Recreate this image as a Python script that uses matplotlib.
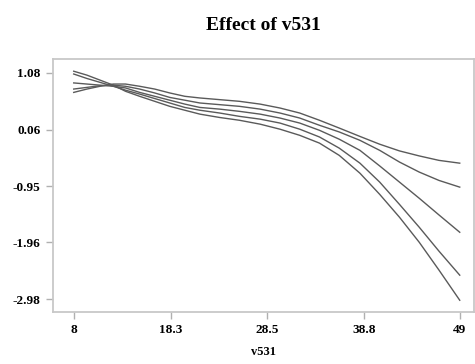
import matplotlib
matplotlib.use("Agg")
import matplotlib.pyplot as plt

# values
x_vals = [8.0, 9.4, 10.8, 12.2, 13.5, 15.0, 16.6, 18.2, 19.8, 21.4, 23.5, 25.6,
          27.8, 29.9, 32.0, 34.1, 36.2, 38.4, 40.5, 42.6, 44.7, 46.8, 49.0]
curve_a = [0.73, 0.79, 0.84, 0.88, 0.88, 0.84, 0.79, 0.72, 0.66, 0.63, 0.60, 0.57,
           0.52, 0.45, 0.36, 0.23, 0.09, -0.06, -0.20, -0.32, -0.41, -0.49, -0.54]
curve_b = [0.79, 0.82, 0.85, 0.86, 0.84, 0.79, 0.72, 0.64, 0.59, 0.54, 0.51, 0.48,
           0.43, 0.36, 0.27, 0.14, 0.02, -0.13, -0.31, -0.52, -0.70, -0.85, -0.97]
curve_c = [0.90, 0.88, 0.86, 0.84, 0.81, 0.73, 0.66, 0.59, 0.52, 0.46, 0.43, 0.39,
           0.34, 0.27, 0.18, 0.05, -0.11, -0.31, -0.59, -0.88, -1.17, -1.47, -1.78]
curve_d = [1.06, 0.98, 0.91, 0.84, 0.77, 0.70, 0.62, 0.54, 0.46, 0.41, 0.36, 0.30,
           0.25, 0.18, 0.07, -0.07, -0.27, -0.54, -0.88, -1.28, -1.69, -2.12, -2.55]
curve_e = [1.11, 1.04, 0.95, 0.86, 0.75, 0.66, 0.57, 0.48, 0.41, 0.34, 0.28, 0.23,
           0.16, 0.07, -0.04, -0.18, -0.40, -0.72, -1.10, -1.51, -1.96, -2.46, -3.00]

x_ticks = [8, 18.3, 28.5, 38.8, 49]
x_tick_labels = ["8", "18.3", "28.5", "38.8", "49"]
y_ticks = [1.08, 0.06, -0.95, -1.96, -2.98]
y_tick_labels = ["1.08", "0.06", "-0.95", "-1.96", "-2.98"]

plt.rcParams['font.family'] = ['Liberation Serif', 'DejaVu Serif']
plt.rcParams['font.weight'] = 'bold'

fig = plt.figure(figsize=(4.75, 3.64), dpi=100)
ax = fig.add_axes([0.1116, 0.143, 0.886, 0.695])

for ys in [curve_a, curve_b, curve_c, curve_d, curve_e]:
    ax.plot(x_vals, ys, color='#5a5a5a', linewidth=1.0)

ax.set_xlim(5.8, 50.5)
ax.set_ylim(-3.21, 1.33)
ax.set_xticks(x_ticks)
ax.set_xticklabels(x_tick_labels)
ax.set_yticks(y_ticks)
ax.set_yticklabels(y_tick_labels)
ax.tick_params(direction='out', length=5, width=1, color='#b0b0b0', labelsize=9.5, pad=4)

for s in ax.spines.values():
    s.set_color('#c8c8c8')
    s.set_linewidth(1.3)

ax.set_title("Effect of v531", fontsize=14, fontweight='bold', pad=21)
ax.set_xlabel("v531", fontsize=9, fontweight='bold', labelpad=7)

fig.savefig("out.png", dpi=100)
